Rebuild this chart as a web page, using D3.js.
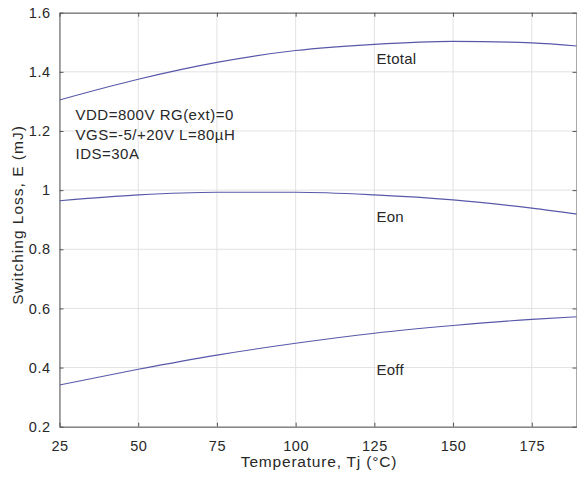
<!DOCTYPE html>
<html><head><meta charset="utf-8">
<script src="https://cdn.jsdelivr.net/npm/d3@7"></script>
<style>body{margin:0;background:#fff}svg{display:block}text{font-family:"Liberation Sans",Arial,Helvetica,sans-serif}</style>
</head><body><svg id="c" width="577" height="479"></svg>
<script>
const temps = [25, 50, 75, 100, 125, 150, 175, 190];
const etotal = [1.305, 1.375, 1.432, 1.472, 1.493, 1.503, 1.498, 1.487];
const eon = [0.964, 0.984, 0.993, 0.993, 0.984, 0.967, 0.939, 0.918];
const eoff = [0.341, 0.394, 0.442, 0.482, 0.516, 0.542, 0.563, 0.572];
const seriesNames = ["Etotal", "Eon", "Eoff"];
const xTicks = [25, 50, 75, 100, 125, 150, 175];
const yTicks = [0.2, 0.4, 0.6, 0.8, 1, 1.2, 1.4, 1.6];
const yTickLabels = ["0.2", "0.4", "0.6", "0.8", "1", "1.2", "1.4", "1.6"];
const annotation = ["VDD=800V RG(ext)=0", "VGS=-5/+20V L=80\u00b5H", "IDS=30A"];
const xTitle = "Temperature, Tj (\u00b0C)";
const yTitle = "Switching Loss, E (mJ)";

const L = 59.5, R = 576.5, T = 12.7, B = 426.7;
const x = d3.scaleLinear().domain([25, 189.2]).range([L, R]);
const y = d3.scaleLinear().domain([0.2, 1.6]).range([B, T]);
const svg = d3.select("#c");
const axisCol = "#555", gridCol = "#e2e2e2", lineCol = "#5858aa", txtCol = "#282828";

svg.append("defs").append("clipPath").attr("id", "clip")
  .append("rect").attr("x", L).attr("y", T).attr("width", R - L).attr("height", B - T);

// grid
const g = svg.append("g");
g.selectAll(".vg").data(xTicks).join("line")
  .attr("x1", d => x(d)).attr("x2", d => x(d)).attr("y1", T).attr("y2", B)
  .attr("stroke", gridCol).attr("stroke-width", 1);
g.selectAll(".hg").data(yTicks).join("line")
  .attr("x1", L).attr("x2", R).attr("y1", d => y(d)).attr("y2", d => y(d))
  .attr("stroke", gridCol).attr("stroke-width", 1);

// axes with inward ticks
const axB = svg.append("g").attr("transform", `translate(0,${B})`)
  .call(d3.axisBottom(x).tickValues(xTicks).tickSizeInner(-4).tickSizeOuter(0).tickPadding(14.5));
const axT = svg.append("g").attr("transform", `translate(0,${T})`)
  .call(d3.axisTop(x).tickValues(xTicks).tickSizeInner(-4).tickSizeOuter(0).tickFormat(""));
const axL = svg.append("g").attr("transform", `translate(${L},0)`)
  .call(d3.axisLeft(y).tickValues(yTicks).tickSizeInner(-4).tickSizeOuter(0).tickPadding(9)
    .tickFormat((d, i) => yTickLabels[i]));
const axR = svg.append("g").attr("transform", `translate(${R},0)`)
  .call(d3.axisRight(y).tickValues(yTicks).tickSizeInner(-4).tickSizeOuter(0).tickFormat(""));
[axB, axT, axL, axR].forEach(a => {
  a.select(".domain").attr("stroke", axisCol).attr("stroke-width", 1);
  a.selectAll(".tick line").attr("stroke", axisCol);
  a.selectAll("text").attr("fill", txtCol).style("font-size", "14.5px").style("letter-spacing", "0.5px");
});

// lines
const line = d3.line().x(d => x(d[0])).y(d => y(d[1])).curve(d3.curveMonotoneX);
const series = [etotal, eon, eoff];
svg.append("g").attr("clip-path", "url(#clip)").selectAll("path").data(series).join("path")
  .attr("d", s => line(temps.map((t, i) => [t, s[i]])))
  .attr("fill", "none").attr("stroke", lineCol).attr("stroke-width", 1.1);

// series labels
const labelPos = [[376.5, 63.5], [376.5, 221.7], [376.5, 375]];
svg.selectAll(".sl").data(seriesNames).join("text")
  .attr("x", (d, i) => labelPos[i][0]).attr("y", (d, i) => labelPos[i][1])
  .attr("fill", txtCol).style("font-size", "15px").style("letter-spacing", "0.25px").text(d => d);

// annotation
svg.selectAll(".an").data(annotation).join("text")
  .attr("x", 75.5).attr("y", (d, i) => 120 + i * 19.5)
  .attr("fill", txtCol).style("font-size", "15px").style("letter-spacing", "0.5px").text(d => d);

// titles
svg.append("text").attr("x", 319).attr("y", 467).attr("text-anchor", "middle")
  .attr("fill", txtCol).style("font-size", "15.5px").style("letter-spacing", "0.8px").text(xTitle);
svg.append("text").attr("transform", `translate(22.5,215) rotate(-90)`).attr("text-anchor", "middle")
  .attr("fill", txtCol).style("font-size", "15.5px").style("letter-spacing", "1px").text(yTitle);
</script></body></html>
